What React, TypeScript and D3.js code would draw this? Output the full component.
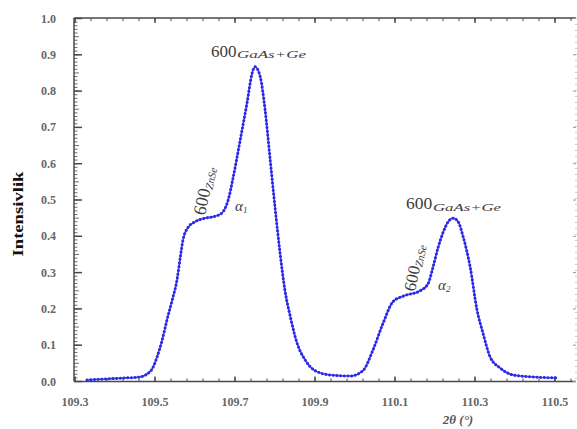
import React from "react";
import * as d3 from "d3";

const twoTheta = [109.33, 109.36, 109.43, 109.46, 109.49, 109.505, 109.518, 109.53, 109.543, 109.555, 109.563, 109.57, 109.583, 109.6, 109.625, 109.65, 109.668, 109.683, 109.695, 109.713, 109.73, 109.743, 109.75, 109.763, 109.775, 109.788, 109.8, 109.813, 109.825, 109.838, 109.855, 109.875, 109.9, 109.938, 109.988, 110.02, 110.045, 110.07, 110.095, 110.12, 110.163, 110.183, 110.195, 110.208, 110.22, 110.233, 110.245, 110.258, 110.27, 110.288, 110.305, 110.32, 110.338, 110.363, 110.395, 110.438, 110.505];
const intensity = [0.004, 0.006, 0.01, 0.012, 0.03, 0.067, 0.114, 0.17, 0.224, 0.28, 0.34, 0.39, 0.425, 0.44, 0.45, 0.455, 0.465, 0.5, 0.56, 0.665, 0.767, 0.85, 0.867, 0.84, 0.75, 0.61, 0.48, 0.35, 0.25, 0.18, 0.106, 0.06, 0.03, 0.018, 0.015, 0.03, 0.087, 0.16, 0.22, 0.235, 0.25, 0.27, 0.315, 0.37, 0.41, 0.44, 0.45, 0.44, 0.4, 0.315, 0.197, 0.133, 0.067, 0.037, 0.018, 0.013, 0.01];
const xTickLabels = ["109.3", "109.5", "109.7", "109.9", "110.1", "110.3", "110.5"];
const yTickLabels = ["0.0", "0.1", "0.2", "0.3", "0.4", "0.5", "0.6", "0.7", "0.8", "0.9", "1.0"];

const W = 577, H = 429;
const L = 74, R = 576, T = 18, B = 381.5;
const serif = "'Liberation Serif', 'DejaVu Serif', serif";

export default function App() {
  const x = d3.scaleLinear().domain([109.2975, 110.5525]).range([L, R]);
  const y = d3.scaleLinear().domain([0, 1]).range([B, B - 363]);
  const pts: [number, number][] = twoTheta.map((t, i) => [t, intensity[i]]);
  const line = d3.line<[number, number]>().x(d => x(d[0])).y(d => y(d[1])).curve(d3.curveMonotoneX);
  const path = line(pts) || "";

  const xMajor = xTickLabels.map(Number);
  const xMinor = d3.range(0, 32).map(i => 109.3 + i * 0.04).filter(v => v < 110.555);
  const yMajor = yTickLabels.map(Number);
  const yMinor = d3.range(0, 101).map(i => i / 100);

  const axisColor = "#4a4a4a";
  const textColor = "#3c3c3c";

  return (
    <svg width={W} height={H} style={{ position: "absolute", left: 0, top: 0, background: "#fff" }}>
      {/* frame */}
      <line x1={L} y1={T} x2={R} y2={T} stroke={axisColor} strokeWidth={1.5} />
      <line x1={L} y1={B} x2={R} y2={B} stroke={axisColor} strokeWidth={1.5} />
      <line x1={L} y1={T} x2={L} y2={B} stroke={axisColor} strokeWidth={1.5} />
      <line x1={R} y1={T} x2={R} y2={B} stroke="#999" strokeWidth={1} strokeDasharray="1 5" />
      {/* x ticks */}
      {xMinor.map((v, i) => (
        <g key={"xm" + i}>
          <line x1={x(v)} x2={x(v)} y1={B} y2={B - 3} stroke={axisColor} strokeWidth={1} />
          <line x1={x(v)} x2={x(v)} y1={T} y2={T + 3} stroke={axisColor} strokeWidth={1} />
        </g>
      ))}
      {xMajor.map((v, i) => (
        <g key={"xM" + i}>
          <line x1={x(v)} x2={x(v)} y1={B} y2={B - 5} stroke={axisColor} strokeWidth={1.5} />
          <line x1={x(v)} x2={x(v)} y1={T} y2={T + 5} stroke={axisColor} strokeWidth={1.5} />
          <text x={x(v)} y={406} textAnchor="middle" fontFamily={serif} fontWeight="bold" fontSize={12} fill="#666">{xTickLabels[i]}</text>
        </g>
      ))}
      {/* y ticks */}
      {yMinor.map((v, i) => (
        <line key={"ym" + i} x1={L} x2={L + (i % 5 === 0 ? 5 : 3.5)} y1={y(v)} y2={y(v)} stroke={axisColor} strokeWidth={0.8} />
      ))}
      {yMajor.map((v, i) => (
        <g key={"yM" + i}>
          <line x1={L} x2={L + 8} y1={y(v)} y2={y(v)} stroke={axisColor} strokeWidth={1.5} />
          <line x1={R} x2={R - 3} y1={y(v)} y2={y(v)} stroke="#999" strokeWidth={1} />
          <text x={56} y={y(v) + 4} textAnchor="end" fontFamily={serif} fontWeight="bold" fontSize={12} fill="#666">{yTickLabels[i]}</text>
        </g>
      ))}
      {/* axis titles */}
      <text transform={`translate(23,${214}) rotate(-90)`} textAnchor="middle" fontFamily={serif} fontWeight="bold" fontSize={15} fill="#111" textLength={85} lengthAdjust="spacingAndGlyphs">Intensivlik</text>
      <text x={458} y={424} textAnchor="middle" fontFamily={serif} fontStyle="italic" fontWeight="bold" fontSize={13} fill="#555">2θ (°)</text>
      {/* curve */}
      <path d={path} fill="none" stroke="#5050f0" strokeWidth={1.6} />
      <path d={path} fill="none" stroke="#2a2ae8" strokeWidth={3} strokeLinecap="round" strokeDasharray="0.1 3.6" />
      {/* annotations */}
      <text x={211} y={57} fontFamily={serif} fontSize={17} fill={textColor}>600</text>
      <text x={237} y={58} fontFamily={serif} fontStyle="italic" fontSize={10.5} fill={textColor} textLength={69} lengthAdjust="spacingAndGlyphs">GaAs+Ge</text>
      <text x={406} y={209} fontFamily={serif} fontSize={17.5} fill={textColor}>600</text>
      <text x={433} y={211} fontFamily={serif} fontStyle="italic" fontSize={10.5} fill={textColor} textLength={68} lengthAdjust="spacingAndGlyphs">GaAs+Ge</text>
      <g transform="translate(205,216) rotate(-78)">
        <text x={0} y={0} fontFamily={serif} fontSize={18} fill={textColor}>600<tspan fontStyle="italic" fontSize={11} dy={2}>ZnSe</tspan></text>
      </g>
      <g transform="translate(415,292) rotate(-78)">
        <text x={0} y={0} fontFamily={serif} fontSize={17} fill={textColor}>600<tspan fontStyle="italic" fontSize={11} dy={2}>ZnSe</tspan></text>
      </g>
      <text x={235} y={211} fontFamily={serif} fontStyle="italic" fontSize={15} fill={textColor}>α<tspan fontSize={9} dy={2}>1</tspan></text>
      <text x={438} y={290} fontFamily={serif} fontStyle="italic" fontSize={15} fill={textColor}>α<tspan fontSize={9} dy={2}>2</tspan></text>
    </svg>
  );
}
